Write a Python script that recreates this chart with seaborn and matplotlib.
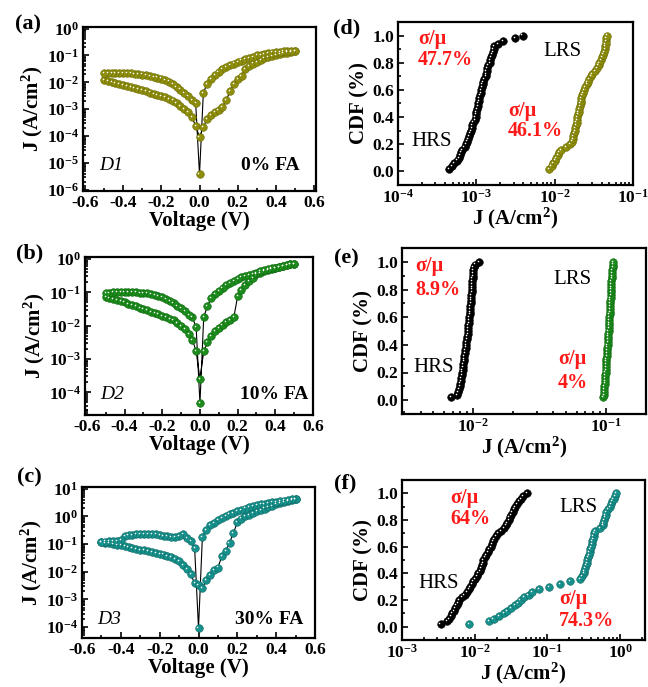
import numpy as np
import pandas as pd
import matplotlib
matplotlib.use("Agg")
import matplotlib.pyplot as plt
import seaborn as sns
from matplotlib.ticker import FixedLocator, FuncFormatter, MultipleLocator, NullFormatter, LogLocator
from matplotlib.transforms import offset_copy

# ---------------- data (log10 of J in A/cm^2) ----------------
V_POS = [0.00, 0.02, 0.04, 0.06, 0.08, 0.10, 0.12, 0.14, 0.16, 0.18, 0.20, 0.22, 0.24,
         0.26, 0.28, 0.30, 0.32, 0.34, 0.36, 0.38, 0.40, 0.42, 0.44, 0.46, 0.48, 0.50]
V_NEG = [-0.02, -0.04, -0.06, -0.08, -0.10, -0.12, -0.14, -0.16, -0.18, -0.20, -0.22, -0.24,
         -0.26, -0.28, -0.30, -0.32, -0.34, -0.36, -0.38, -0.40, -0.42, -0.44, -0.46, -0.48, -0.50]

# D1 (0% FA)
A_POS_LO = [-4.04, -3.66, -3.37, -3.23, -3.11, -3.02, -2.91, -2.67, -2.32, -2.07, -1.88, -1.75, -1.52,
            -1.40, -1.30, -1.23, -1.17, -1.11, -1.06, -1.02, -0.98, -0.95, -0.92, -0.89, -0.86, -0.83]
A_POS_HI = [-5.43, -2.40, -2.05, -1.88, -1.73, -1.61, -1.52, -1.44, -1.37, -1.30, -1.24, -1.19, -1.14,
            -1.09, -1.05, -1.00, -0.97, -0.94, -0.91, -0.89, -0.87, -0.86, -0.85, -0.84, -0.83, -0.82]
A_NEG_HI = [-2.77, -2.67, -2.52, -2.40, -2.27, -2.16, -2.05, -1.97, -1.91, -1.86, -1.82, -1.79,
            -1.76, -1.73, -1.71, -1.69, -1.68, -1.67, -1.67, -1.66, -1.66, -1.65, -1.65, -1.65, -1.64]
A_NEG_LO = [-3.62, -3.30, -3.10, -2.98, -2.88, -2.78, -2.68, -2.61, -2.55, -2.50, -2.46, -2.42,
            -2.38, -2.34, -2.30, -2.26, -2.22, -2.18, -2.14, -2.10, -2.06, -2.02, -1.98, -1.94, -1.90]

# D2 (10% FA)
B_POS_LO = [-3.60, -2.77, -2.50, -2.32, -2.17, -2.07, -1.98, -1.90, -1.82, -1.74, -1.12, -0.94, -0.78,
            -0.66, -0.56, -0.46, -0.41, -0.37, -0.33, -0.30, -0.27, -0.25, -0.22, -0.19, -0.16, -0.14]
B_POS_HI = [-4.33, -1.75, -1.40, -1.18, -1.05, -0.95, -0.87, -0.79, -0.71, -0.65, -0.59, -0.55, -0.51,
            -0.47, -0.44, -0.41, -0.37, -0.34, -0.31, -0.28, -0.26, -0.23, -0.21, -0.18, -0.16, -0.14]
B_NEG_HI = [-2.05, -1.75, -1.68, -1.57, -1.48, -1.40, -1.32, -1.25, -1.19, -1.14, -1.10, -1.07,
            -1.05, -1.03, -1.02, -1.01, -1.00, -1.00, -0.99, -0.99, -1.00, -1.00, -1.00, -1.01, -1.01]
B_NEG_LO = [-2.77, -2.42, -2.24, -2.10, -2.00, -1.91, -1.84, -1.79, -1.74, -1.70, -1.66, -1.62,
            -1.58, -1.54, -1.50, -1.46, -1.42, -1.38, -1.34, -1.30, -1.27, -1.24, -1.21, -1.18, -1.15]

# D3 (30% FA)
C_POS_LO = [-2.48, -2.60, -2.30, -2.12, -1.95, -1.85, -1.45, -1.25, -0.95, -0.60, -0.22, -0.08, 0.00,
            0.06, 0.12, 0.18, 0.23, 0.28, 0.33, 0.38, 0.43, 0.47, 0.51, 0.55, 0.58, 0.61]
C_POS_HI = [-4.04, -0.75, -0.48, -0.33, -0.23, -0.14, -0.07, 0.00, 0.07, 0.13, 0.19, 0.24, 0.28,
            0.32, 0.36, 0.40, 0.43, 0.46, 0.49, 0.51, 0.53, 0.55, 0.57, 0.59, 0.61, 0.62]
C_NEG_HI = [-1.14, -0.90, -0.77, -0.65, -0.70, -0.75, -0.74, -0.72, -0.70, -0.67, -0.65, -0.64,
            -0.63, -0.63, -0.64, -0.65, -0.67, -0.69, -0.72, -0.86, -0.88, -0.89, -0.90, -0.91, -0.92]
C_NEG_LO = [-2.42, -2.10, -1.90, -1.75, -1.63, -1.55, -1.48, -1.43, -1.38, -1.35, -1.32, -1.29,
            -1.26, -1.23, -1.21, -1.18, -1.15, -1.12, -1.09, -1.05, -1.03, -1.00, -0.97, -0.95, -0.93]

# Cumulative distributions (sorted log10 J for each cycle)
D_HRS = [-3.35, -3.31, -3.28, -3.25, -3.22, -3.21, -3.19, -3.18, -3.15, -3.13, -3.12, -3.11, -3.09,
         -3.08, -3.07, -3.06, -3.05, -3.04, -3.02, -3.01, -3.00, -3.00, -2.99, -2.98, -2.98, -2.97,
         -2.96, -2.95, -2.94, -2.94, -2.93, -2.92, -2.91, -2.90, -2.88, -2.88, -2.87, -2.86, -2.85,
         -2.83, -2.82, -2.81, -2.80, -2.79, -2.78, -2.77, -2.72, -2.66, -2.50, -2.41]
D_LRS = [-2.07, -2.04, -2.02, -2.00, -1.98, -1.96, -1.94, -1.92, -1.86, -1.80, -1.78, -1.77, -1.76,
         -1.75, -1.745, -1.74, -1.73, -1.72, -1.715, -1.71, -1.70, -1.695, -1.69, -1.68, -1.67, -1.665,
         -1.66, -1.65, -1.64, -1.62, -1.61, -1.59, -1.58, -1.56, -1.54, -1.52, -1.49, -1.46, -1.44,
         -1.43, -1.41, -1.39, -1.38, -1.37, -1.36, -1.355, -1.35, -1.345, -1.34, -1.335]
E_HRS = [-2.165, -2.125, -2.115, -2.108, -2.103, -2.098, -2.094, -2.090, -2.087, -2.084, -2.081,
         -2.078, -2.075, -2.072, -2.070, -2.067, -2.064, -2.061, -2.058, -2.055, -2.052, -2.049,
         -2.046, -2.043, -2.041, -2.039, -2.037, -2.035, -2.032, -2.030, -2.028, -2.026, -2.024,
         -2.022, -2.020, -2.018, -2.016, -2.014, -2.013, -2.011, -2.010, -2.008, -2.007, -2.006,
         -2.005, -2.003, -2.001, -1.998, -1.985, -1.955]
E_LRS = [-1.022, -1.018, -1.016, -1.014, -1.012, -1.010, -1.008, -1.006, -1.005, -1.004, -1.002,
         -1.001, -1.000, -0.998, -0.997, -0.995, -0.994, -0.992, -0.990, -0.989, -0.987, -0.986,
         -0.984, -0.983, -0.981, -0.980, -0.979, -0.977, -0.976, -0.975, -0.974, -0.972, -0.971,
         -0.970, -0.968, -0.967, -0.966, -0.965, -0.964, -0.963, -0.962, -0.961, -0.960, -0.958,
         -0.957, -0.955, -0.953, -0.950, -0.947, -0.944]
F_HRS = [-2.47, -2.38, -2.35, -2.33, -2.31, -2.29, -2.27, -2.25, -2.23, -2.21, -2.18, -2.14, -2.11,
         -2.08, -2.06, -2.04, -2.02, -2.00, -1.97, -1.95, -1.93, -1.91, -1.90, -1.89, -1.88, -1.86,
         -1.84, -1.82, -1.80, -1.78, -1.76, -1.75, -1.73, -1.71, -1.68, -1.64, -1.60, -1.57, -1.55,
         -1.53, -1.52, -1.50, -1.48, -1.46, -1.44, -1.42, -1.39, -1.36, -1.33, -1.28]
F_LRS = [-2.08, -1.80, -1.74, -1.66, -1.60, -1.55, -1.50, -1.44, -1.40, -1.37, -1.32, -1.26, -1.21,
         -1.12, -0.98, -0.82, -0.69, -0.55, -0.52, -0.50, -0.49, -0.48, -0.47, -0.46, -0.45, -0.44,
         -0.43, -0.42, -0.41, -0.40, -0.39, -0.38, -0.37, -0.365, -0.355, -0.34, -0.27, -0.24, -0.23,
         -0.22, -0.21, -0.20, -0.19, -0.17, -0.14, -0.12, -0.11, -0.09, -0.07, -0.06]

IV_XTICKS = [-0.6, -0.4, -0.2, 0.0, 0.2, 0.4, 0.6]
CDF_YTICKS = [0.0, 0.2, 0.4, 0.6, 0.8, 1.0]

OLIVE, OLIVE_E = "#8e8e0c", "#6a6a00"
GREEN, GREEN_E = "#1c8c1c", "#0e640e"
TEAL, TEAL_E = "#17918c", "#0c6663"

# ---------------- style ----------------
sns.set_theme(style="ticks")
plt.rcParams.update({
    "font.family": ["Liberation Serif", "DejaVu Serif"],
    "font.weight": "bold",
    "axes.labelweight": "bold",
    "mathtext.fontset": "custom",
    "mathtext.rm": "Liberation Serif:bold",
    "mathtext.bf": "Liberation Serif:bold",
    "mathtext.it": "Liberation Serif:bold:italic",
    "mathtext.default": "bf",
    "axes.unicode_minus": False,
    "axes.edgecolor": "black",
    "axes.labelcolor": "black",
    "text.color": "black",
    "xtick.color": "black",
    "ytick.color": "black",
})

fig = plt.figure(figsize=(6.48, 6.87), dpi=100)
W, H = 648.0, 687.0


def make_axes(l, t, r, b):
    return fig.add_axes([l / W, 1 - b / H, (r - l) / W, (b - t) / H])


dec_fmt = FuncFormatter(lambda v, p: r"$\mathbf{10^{%d}}$" % int(round(np.log10(v))))


def style_axes(ax):
    for s in ax.spines.values():
        s.set_linewidth(1.6)
        s.set_color("black")
    ax.tick_params(which="both", direction="in", top=False, right=False, width=1.2,
                   labelsize=12.5, pad=3)
    ax.tick_params(which="major", length=4.5)
    ax.tick_params(which="minor", length=2.5)


def spheres(ax, df, x, y, color, edge):
    sns.scatterplot(data=df, x=x, y=y, color=color, edgecolor=edge, s=30, linewidth=0.4,
                    ax=ax, zorder=3, legend=False)
    hl = offset_copy(ax.transData, fig=fig, x=-0.8, y=0.8, units="points")
    sns.scatterplot(data=df, x=x, y=y, color="white", s=1.3, linewidth=0, ax=ax,
                    zorder=4, legend=False, transform=hl)


def iv_panel(ax, neg_lo, pos_lo, pos_hi, neg_hi, color, edge, ylim, decades, xlim):
    V = V_NEG[::-1] + V_POS + V_POS[::-1] + V_NEG
    logJ = neg_lo[::-1] + pos_lo + pos_hi[::-1] + neg_hi
    df = pd.DataFrame({"V": V, "J": 10 ** np.array(logJ, dtype=float)})
    ax.set_yscale("log")
    sns.lineplot(data=df, x="V", y="J", sort=False, estimator=None, color="black",
                 lw=0.8, ax=ax, zorder=2)
    spheres(ax, df, "V", "J", color, edge)
    ax.set_xlim(*xlim)
    ax.set_ylim(*ylim)
    ax.xaxis.set_major_locator(FixedLocator(IV_XTICKS))
    ax.xaxis.set_minor_locator(MultipleLocator(0.1))
    ax.xaxis.set_major_formatter(FuncFormatter(lambda v, p: "%.1f" % v))
    ax.yaxis.set_major_locator(FixedLocator([10.0 ** d for d in decades]))
    ax.yaxis.set_major_formatter(dec_fmt)
    ax.yaxis.set_minor_locator(LogLocator(base=10, subs=np.arange(2, 10), numticks=30))
    ax.yaxis.set_minor_formatter(NullFormatter())
    ax.set_xlabel("Voltage (V)", fontsize=15, labelpad=0)
    ax.set_ylabel(r"J (A/cm$^{2}$)", fontsize=15, labelpad=1)
    style_axes(ax)


def cdf_panel(ax, hrs, lrs, color, edge, xlim, decades):
    ax.set_xscale("log")
    for vals, c, e in ((hrs, "black", "#000000"), (lrs, color, edge)):
        df = pd.DataFrame({"J": 10 ** np.array(vals, dtype=float)})
        df["CDF"] = df["J"].rank(method="first") / len(df)
        spheres(ax, df, "J", "CDF", c, e)
    ax.set_xlim(*xlim)
    ax.set_ylim(-0.1, 1.1)
    ax.xaxis.set_major_locator(FixedLocator([10.0 ** d for d in decades]))
    ax.xaxis.set_major_formatter(dec_fmt)
    ax.xaxis.set_minor_locator(LogLocator(base=10, subs=np.arange(2, 10), numticks=30))
    ax.xaxis.set_minor_formatter(NullFormatter())
    ax.yaxis.set_major_locator(FixedLocator(CDF_YTICKS))
    ax.yaxis.set_minor_locator(MultipleLocator(0.1))
    ax.yaxis.set_major_formatter(FuncFormatter(lambda v, p: "%.1f" % v))
    ax.set_xlabel(r"J (A/cm$^{2}$)", fontsize=15, labelpad=-1)
    ax.set_ylabel("CDF (%)", fontsize=15, labelpad=2)
    style_axes(ax)


axA = make_axes(83, 27, 316, 191)
axB = make_axes(85, 257, 313, 415)
axC = make_axes(82, 487, 315, 638)
axD = make_axes(398, 22, 633, 185)
axE = make_axes(402, 248, 646, 414)
axF = make_axes(402, 480, 645, 640)

iv_panel(axA, A_NEG_LO, A_POS_LO, A_POS_HI, A_NEG_HI, OLIVE, OLIVE_E, (9e-7, 1.15),
         [-6, -5, -4, -3, -2, -1, 0], (-0.61, 0.61))
iv_panel(axB, B_NEG_LO, B_POS_LO, B_POS_HI, B_NEG_HI, GREEN, GREEN_E, (2.1e-5, 1.15),
         [-4, -3, -2, -1, 0], (-0.61, 0.60))
iv_panel(axC, C_NEG_LO, C_POS_LO, C_POS_HI, C_NEG_HI, TEAL, TEAL_E, (4e-5, 11.5),
         [-4, -3, -2, -1, 0, 1], (-0.60, 0.60))

cdf_panel(axD, D_HRS, D_LRS, OLIVE, OLIVE_E, (1e-4, 1e-1), [-4, -3, -2, -1])
cdf_panel(axE, E_HRS, E_LRS, GREEN, GREEN_E, (2.9e-3, 0.2), [-2, -1])
cdf_panel(axF, F_HRS, F_LRS, TEAL, TEAL_E, (1e-3, 2.2), [-3, -2, -1, 0])

# ---------------- annotations ----------------
for ax, dev, fa, ydev, xdev, xfa in ((axA, "D1", "0% FA", 0.154, 0.07, 0.93),
                                     (axB, "D2", "10% FA", 0.127, 0.066, 0.98),
                                     (axC, "D3", "30% FA", 0.12, 0.064, 0.95)):
    ax.text(xdev, ydev, dev, transform=ax.transAxes, ha="left", va="center",
            fontsize=14, style="italic", fontweight="normal")
    ax.text(xfa, ydev, fa, transform=ax.transAxes, ha="right", va="center",
            fontsize=14, fontweight="bold")

RED = "#ff1a1a"
for ax, items in (
    (axD, [(0.085, 0.895, 0.765, "47.7%"), (0.468, 0.455, 0.33, "46.1%")]),
    (axE, [(0.053, 0.89, 0.745, "8.9%"), (0.64, 0.33, 0.185, "4%")]),
    (axF, [(0.20, 0.89, 0.755, "64%"), (0.646, 0.255, 0.12, "74.3%")]),
):
    for x, y1, y2, val in items:
        ax.text(x, y1, "σ/μ", transform=ax.transAxes, ha="left", va="center",
                fontsize=14.5, color=RED, fontweight="bold")
        ax.text(x, y2, val, transform=ax.transAxes, ha="left", va="center",
                fontsize=14.5, color=RED, fontweight="bold")

for ax, (xl, yl), (xh, yh) in ((axD, (0.617, 0.816), (0.055, 0.264)),
                               (axE, (0.62, 0.81), (0.045, 0.283)),
                               (axF, (0.646, 0.83), (0.066, 0.356))):
    ax.text(xl, yl, "LRS", transform=ax.transAxes, ha="left", va="center",
            fontsize=15, fontweight="normal")
    ax.text(xh, yh, "HRS", transform=ax.transAxes, ha="left", va="center",
            fontsize=15, fontweight="normal")

for lab, x, y in (("(a)", 28.5, 24), ("(b)", 30, 253), ("(c)", 29, 477),
                  ("(d)", 346.5, 28.5), ("(e)", 346, 258), ("(f)", 345, 483)):
    fig.text(x / W, 1 - y / H, lab, ha="center", va="center", fontsize=16, fontweight="bold")

fig.savefig("out.png", dpi=100)
